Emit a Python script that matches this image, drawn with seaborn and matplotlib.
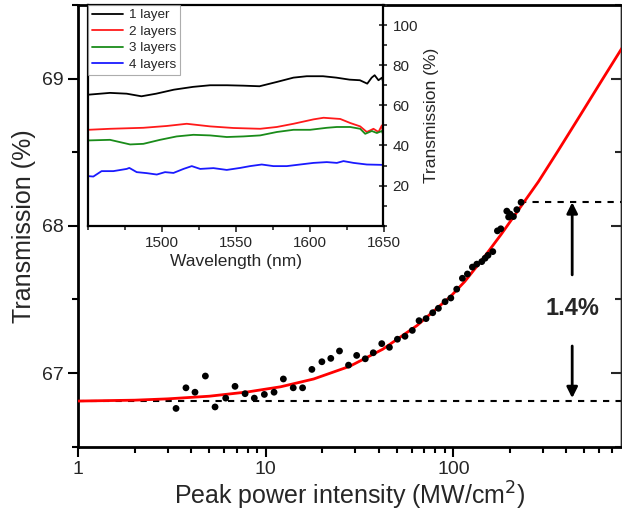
import numpy as np
import pandas as pd
import matplotlib
matplotlib.use("Agg")
import matplotlib.pyplot as plt
from matplotlib.ticker import MultipleLocator, LogLocator, NullFormatter, FixedLocator
import seaborn as sns

sns.set_style("ticks")
plt.rcParams['font.family'] = ['Liberation Sans', 'DejaVu Sans']

# ---------------- main data ----------------
intensity = [3.32, 3.75, 4.19, 4.76, 5.36, 6.11, 6.85, 7.75, 8.68, 9.82, 11.06, 12.4, 14.0, 15.7,
             17.6, 19.9, 22.2, 24.7, 27.6, 30.5, 33.9, 37.4, 41.5, 45.6, 50.3, 55.2, 60.4, 65.6,
             71.5, 77.6, 83.2, 90.3, 96.9, 104.2, 111.7, 118.8, 126.3, 133.3, 141.7, 147.6, 153.0,
             162.2, 171.7, 179.0, 192.7, 197.0, 200.6, 209.0, 217.9, 229.6]
transmission = [66.76, 66.90, 66.87, 66.98, 66.77, 66.83, 66.91, 66.86, 66.83, 66.855, 66.87, 66.96,
                66.90, 66.90, 67.025, 67.077, 67.10, 67.15, 67.054, 67.12, 67.097, 67.138, 67.20,
                67.175, 67.23, 67.25, 67.29, 67.356, 67.37, 67.41, 67.44, 67.485, 67.51, 67.57,
                67.644, 67.673, 67.72, 67.74, 67.757, 67.78, 67.80, 67.825, 67.966, 67.98, 68.10,
                68.06, 68.08, 68.063, 68.11, 68.16]

fit_intensity = [1, 2, 3, 5, 8, 12, 18, 28, 42, 64, 96, 115, 145, 180, 236, 284, 360, 474, 620, 792]
fit_transmission = [66.810, 66.816, 66.825, 66.843, 66.872, 66.907, 66.960, 67.046, 67.162,
                    67.323, 67.517, 67.622, 67.783, 67.943, 68.155, 68.300, 68.506, 68.750,
                    68.990, 69.207]

base_level = 66.81
top_level = 68.16
top_start = 227
arrow_x = 430
delta_label = "1.4%"

# ---------------- inset data ----------------
wl_1 = [1450, 1464.7, 1476, 1486, 1496, 1508, 1521, 1532.5, 1544, 1555, 1566, 1578, 1589, 1598,
        1609, 1618, 1627, 1634, 1639, 1642, 1644, 1646.6, 1649, 1650]
t_1 = [65.3, 66.2, 65.8, 64.5, 65.8, 67.8, 69.2, 70.0, 70.0, 69.8, 69.5, 71.7, 73.8, 74.5,
       74.5, 73.8, 72.8, 72.5, 70.8, 73.8, 75.0, 72.5, 73.8, 70.8]
wl_2 = [1450, 1464.7, 1487.3, 1503.1, 1516.7, 1532.5, 1548.3, 1566.4, 1577.7, 1589, 1602.6,
        1609.4, 1620.7, 1627.4, 1634.2, 1638.7, 1643.2, 1646.6, 1648.9, 1650]
t_2 = [47.8, 48.3, 48.8, 49.7, 50.8, 49.5, 48.7, 48.3, 49.2, 50.8, 53.0, 53.8, 53.2, 51.2,
       49.5, 46.7, 48.3, 46.7, 50.0, 44.2]
wl_3 = [1450, 1464.7, 1478.3, 1487.3, 1498.6, 1509.9, 1521.2, 1532.5, 1543.8, 1555.1, 1566.4,
        1577.7, 1589, 1600.3, 1611.6, 1618.4, 1627.4, 1634.2, 1637.6, 1642.1, 1645.5, 1648.9, 1650]
t_3 = [42.5, 42.8, 40.5, 40.8, 42.8, 44.5, 45.3, 45.0, 44.2, 44.5, 45.0, 46.7, 47.8, 47.8,
       48.8, 49.2, 49.2, 48.3, 45.8, 47.2, 46.2, 47.2, 45.0]
wl_4 = [1450, 1453.4, 1459, 1467, 1476, 1477.8, 1482.8, 1489.6, 1496.4, 1502, 1507.7, 1514.5,
        1520.1, 1525.8, 1534.8, 1543.8, 1552.9, 1559.6, 1567.5, 1575.4, 1584.5, 1593.5, 1602.6,
        1611.6, 1618.4, 1622.9, 1629.7, 1638.7, 1650]
t_4 = [24.7, 24.5, 27.2, 27.2, 28.3, 28.8, 26.7, 26.2, 25.5, 26.7, 26.3, 28.3, 29.7, 28.3,
       28.7, 27.8, 28.8, 29.7, 30.5, 29.7, 29.7, 30.5, 31.3, 31.7, 31.3, 32.2, 31.3, 30.5, 30.3]
layer_labels = ["1 layer", "2 layers", "3 layers", "4 layers"]
layer_colors = ["#000000", "#ff1a1a", "#1a8c1a", "#1a1aff"]

W, H = 622, 518
fig = plt.figure(figsize=(W / 100, H / 100), dpi=100)

# main axes
L, R, T, B = 78.3, 621.0, 5.0, 446.7
ax = fig.add_axes([L / W, 1 - B / H, (R - L) / W, (B - T) / H])

sns.lineplot(x=fit_intensity, y=fit_transmission, ax=ax, color="#ff0000", lw=2.0,
             estimator=None, sort=False, zorder=3)
sns.scatterplot(x=intensity, y=transmission, ax=ax, color="black", s=24, edgecolor="none",
                zorder=4)

ax.set_xscale("log")
ax.set_xlim(1, 783)
ax.set_ylim(66.5, 69.5)

ax.axhline(base_level, color="black", lw=1.5, ls=(0, (3, 3)), zorder=2)
ax.plot([top_start, 783], [top_level, top_level], color="black", lw=1.5, ls=(0, (3, 3)), zorder=2)

ax.annotate("", xy=(arrow_x, top_level), xytext=(arrow_x, 67.667),
            arrowprops=dict(arrowstyle="-|>", color="black", lw=2, mutation_scale=16,
                            shrinkA=0, shrinkB=0))
ax.annotate("", xy=(arrow_x, 66.83), xytext=(arrow_x, 67.184),
            arrowprops=dict(arrowstyle="-|>", color="black", lw=2, mutation_scale=16,
                            shrinkA=0, shrinkB=0))
ax.text(arrow_x, 67.44, delta_label, ha="center", va="center", fontsize=17, fontweight="bold")

ax.yaxis.set_major_locator(FixedLocator([67, 68, 69]))
ax.yaxis.set_minor_locator(MultipleLocator(0.5))
ax.xaxis.set_minor_locator(LogLocator(base=10, subs=np.arange(2, 10), numticks=20))
ax.xaxis.set_minor_formatter(NullFormatter())
ax.set_xticks([1, 10, 100])
ax.set_xticklabels(["1", "10", "100"])

ax.tick_params(axis="both", which="major", direction="out", length=7, width=1.5,
               labelsize=14, color="black")
ax.tick_params(axis="both", which="minor", direction="out", length=4, width=1.5, color="black")
ax.tick_params(top=False, right=False, which="both")

sec = ax.secondary_yaxis("right")
sec.yaxis.set_major_locator(FixedLocator([67, 68, 69]))
sec.yaxis.set_minor_locator(MultipleLocator(0.5))
sec.tick_params(which="major", direction="in", length=7, width=1.5, labelright=False)
sec.tick_params(which="minor", direction="in", length=4, width=1.5)
sec.spines["right"].set_linewidth(1.0)

for s in ["left", "bottom", "top"]:
    ax.spines[s].set_visible(True)
    ax.spines[s].set_linewidth(2.0)
    ax.spines[s].set_color("black")
ax.spines["right"].set_visible(True)
ax.spines["right"].set_linewidth(1.0)

ax.set_xlabel("Peak power intensity (MW/cm$^{2}$)", fontsize=18, labelpad=1)
ax.set_ylabel("Transmission (%)", fontsize=18, labelpad=4)

# inset axes
iL, iR, iT, iB = 88.3, 383.5, 5.0, 225.7
axi = fig.add_axes([iL / W, 1 - iB / H, (iR - iL) / W, (iB - iT) / H])
series = [(wl_1, t_1), (wl_2, t_2), (wl_3, t_3), (wl_4, t_4)]
for (wl, tt), lab, col in zip(series, layer_labels, layer_colors):
    sns.lineplot(x=wl, y=tt, ax=axi, color=col, lw=1.3, label=lab, estimator=None, sort=False)

axi.set_xlim(1450, 1650)
axi.set_ylim(0, 110)
axi.xaxis.set_major_locator(FixedLocator([1500, 1550, 1600, 1650]))
axi.xaxis.set_minor_locator(MultipleLocator(25))
axi.yaxis.set_major_locator(FixedLocator([20, 40, 60, 80, 100]))
axi.yaxis.set_minor_locator(MultipleLocator(10))
axi.yaxis.tick_right()
axi.yaxis.set_label_position("right")
axi.tick_params(axis="y", which="major", direction="inout", length=6, width=1.2, labelsize=11,
                left=False, right=True)
axi.tick_params(axis="y", which="minor", direction="out", length=3, width=1.2,
                left=False, right=True)
axi.tick_params(axis="x", which="major", direction="out", length=4, width=1.2, labelsize=11)
axi.tick_params(axis="x", which="minor", direction="out", length=3, width=1.2)
axi.set_xlabel("Wavelength (nm)", fontsize=12.5, labelpad=3)
axi.set_ylabel("Transmission (%)", fontsize=12.5, labelpad=4)
for s in axi.spines.values():
    s.set_visible(True)
    s.set_linewidth(1.6)
    s.set_color("black")

leg = axi.legend(loc="upper left", bbox_to_anchor=(0, 1), borderaxespad=0, fontsize=9.7,
                 frameon=True, fancybox=False, handlelength=2.3, handletextpad=0.4,
                 labelspacing=0.3, borderpad=0.3)
leg.get_frame().set_edgecolor("#999999")
leg.get_frame().set_linewidth(0.8)
for line in leg.get_lines():
    line.set_linewidth(1.3)

fig.savefig("out.png", dpi=100)
